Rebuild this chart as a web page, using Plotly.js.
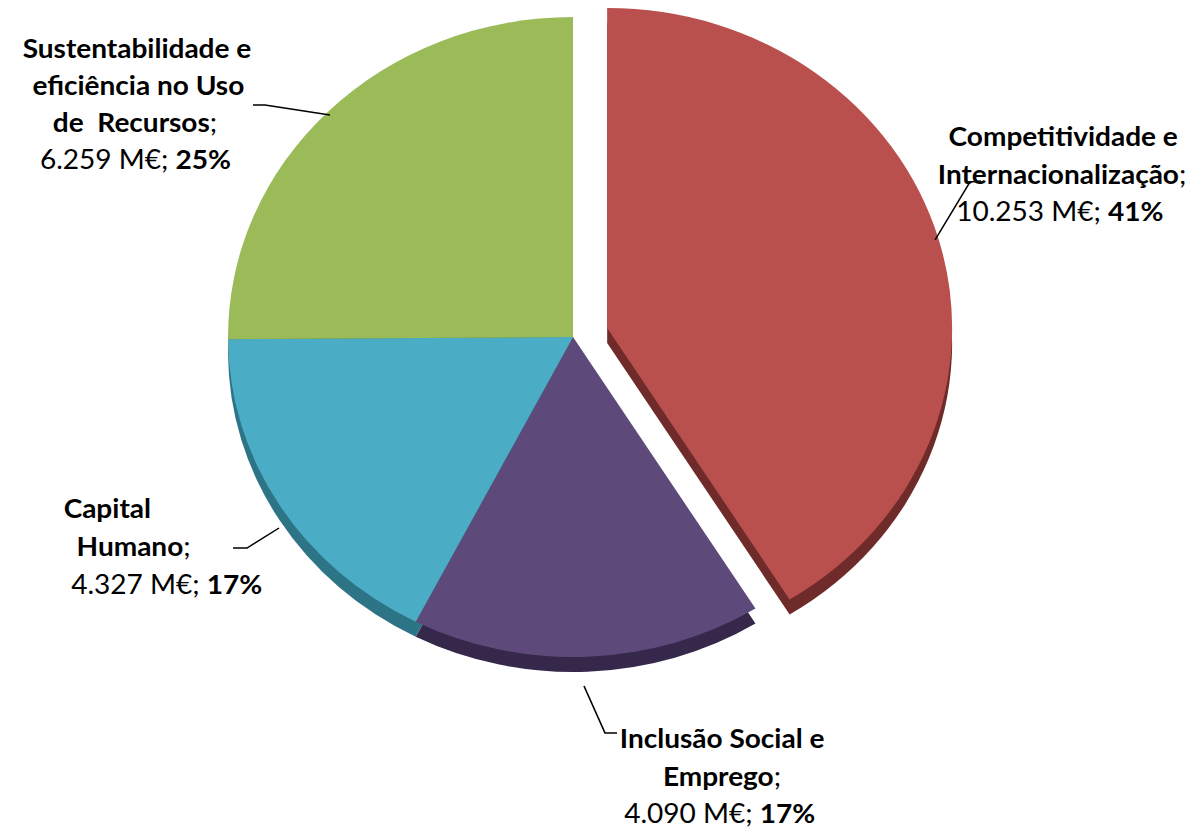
<!DOCTYPE html>
<html>
<head>
<meta charset="utf-8">
<script src="https://cdn.plot.ly/plotly-3.0.1.min.js"></script>
<style>
html,body{margin:0;padding:0;background:#fff;overflow:hidden;}
#chart{position:absolute;left:0;top:-30px;width:1117px;height:862px;transform:scaleX(1.0779);transform-origin:0 0;}
</style>
</head>
<body>
<div id="chart"></div>
<script>
// ---- data ----
const categories = ['Competitividade e Internacionalização', 'Inclusão Social e Emprego', 'Capital Humano', 'Sustentabilidade e eficiência no Uso de Recursos'];
const values = [10253, 4090, 4327, 6259];
const valueLabels = ['10.253 M€', '4.090 M€', '4.327 M€', '6.259 M€'];
const percentLabels = ['41%', '17%', '17%', '25%'];
const nameLines = [
  ['Competitividade e', 'Internacionalização;'],
  ['Inclusão Social e', 'Emprego;'],
  ['Capital', 'Humano;'],
  ['Sustentabilidade e', 'eficiência no Uso', 'de  Recursos;']
];
const colors = ['#BA504E', '#5E4A7A', '#4BACC6', '#9BBB59'];
const sideColors = ['#6E2B29', '#35284A', '#2C7486', '#5E7433'];
const pulls = [0.103, 0, 0, 0];

// ---- layout helpers (screen pixel -> paper) ----
const SW = 1204, DW = 1117, H = 862, OFF = 30;
const S = SW / DW;                 // horizontal stretch of the drawing
const px = x => x / SW;
const py = y => 1 - (y + OFF) / H;

const cx = 573, cy = 337, half = 353, depth = 15;
const domX = [px(cx - half * S), px(cx + half * S)];
const domY = [py(cy + half), py(cy - half)];
const domYShadow = [py(cy + half + depth), py(cy - half + depth)];

const sideTrace = {
  type: 'pie', values: values, labels: categories, sort: false, direction: 'clockwise',
  pull: pulls, marker: {colors: sideColors, line: {width: 0}}, textinfo: 'none',
  hoverinfo: 'skip', showlegend: false,
  domain: {x: domX, y: domYShadow}
};
const topTrace = {
  type: 'pie', values: values, labels: categories, sort: false, direction: 'clockwise',
  pull: pulls, marker: {colors: colors, line: {width: 0}}, textinfo: 'none',
  hoverinfo: 'label+value', showlegend: false,
  domain: {x: domX, y: domY}
};

// label line positions [centerX per line, firstLineY, lineStep] per category (screen px)
const labelPos = [
  [[1063, 1062, 1060], 136, 37.5],
  [[722, 722, 720], 738, 37.5],
  [[107, 134, 166], 508, 38],
  [[137, 138, 135, 135], 48, 37]
];
const font = {family: 'Lato, "Open Sans", sans-serif', size: 26, color: '#000'};
const annotations = [];
categories.forEach((c, i) => {
  const lines = nameLines[i].map(t => '<b>' + t.replace(/;$/, '') + '</b>' + (t.endsWith(';') ? ';' : ''));
  lines.push(valueLabels[i] + '; <b>' + percentLabels[i] + '</b>');
  const [xs, y0, step] = labelPos[i];
  lines.forEach((t, k) => {
    annotations.push({
      xref: 'paper', yref: 'paper', x: px(xs[k]), y: py(y0 + k * step),
      xanchor: 'center', yanchor: 'middle', showarrow: false, text: t, font: font
    });
  });
});

// leader lines (screen px)
const leaders = [
  [[935, 240], [970, 182], [981, 181]],
  [[584, 686], [605, 733], [617, 733]],
  [[279, 528], [247, 548], [233, 548]],
  [[330, 115], [265, 105], [253, 105]]
];
const shapes = leaders.map(pts => ({
  type: 'path', xref: 'paper', yref: 'paper',
  path: 'M' + pts.map(p => px(p[0]) + ',' + py(p[1])).join(' L'),
  line: {color: '#000', width: 1.5}
}));

Plotly.newPlot('chart', [sideTrace, topTrace], {
  width: DW, height: H, margin: {l: 0, r: 0, t: 0, b: 0},
  paper_bgcolor: '#fff', plot_bgcolor: '#fff',
  annotations: annotations, shapes: shapes, showlegend: false
}, {displayModeBar: false, staticPlot: true});
</script>
</body>
</html>
